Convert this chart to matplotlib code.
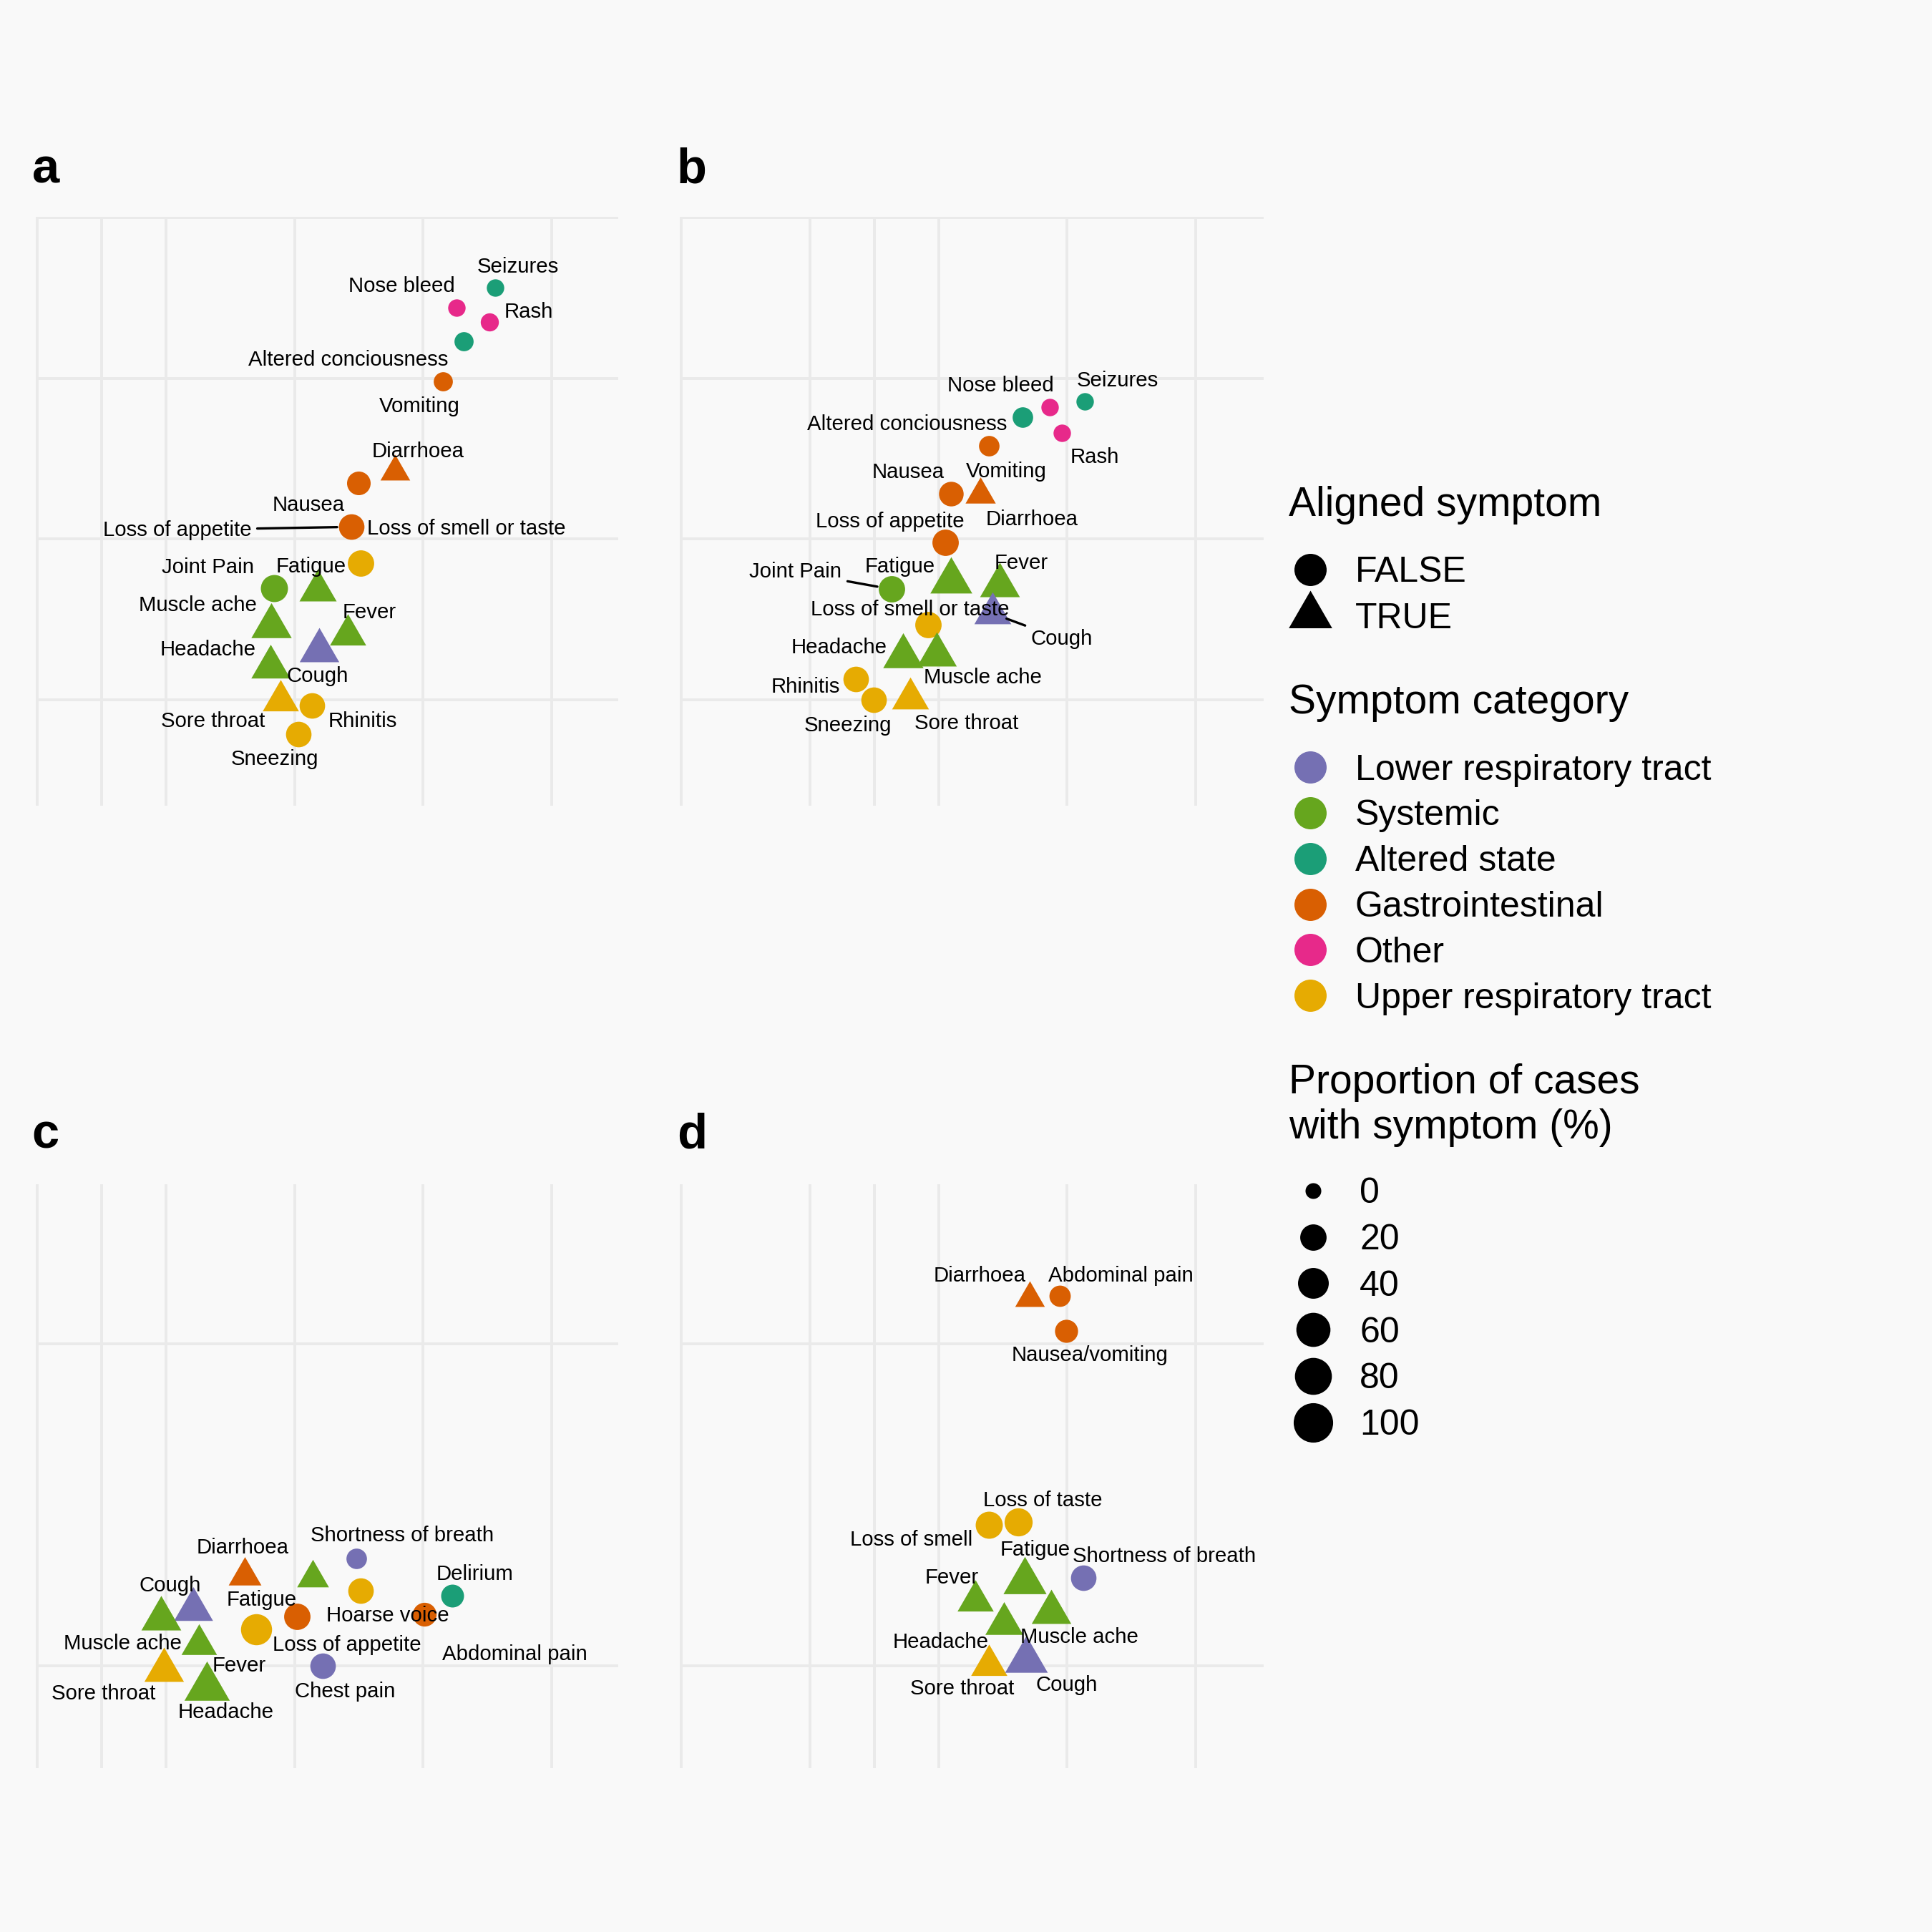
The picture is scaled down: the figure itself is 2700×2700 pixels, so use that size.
import numpy as np
import matplotlib
matplotlib.use("Agg")
import matplotlib.pyplot as plt
from matplotlib.path import Path
from matplotlib.lines import Line2D

plt.rcParams['font.family'] = ['Liberation Sans', 'DejaVu Sans']

# ---------------- data ----------------
category_names = ['Lower respiratory tract', 'Systemic', 'Altered state',
                  'Gastrointestinal', 'Other', 'Upper respiratory tract']
category_codes = ['LRT', 'SYS', 'ALT', 'GI', 'OTH', 'URT']
category_colors = ['#7570B3', '#66A61E', '#1B9E77', '#D95F02', '#E7298A', '#E6AB02']
size_breaks = [0, 20, 40, 60, 80, 100]
T, F = True, False

# panel a
a_symptom = ['Seizures', 'Nose bleed', 'Rash', 'Altered conciousness', 'Vomiting', 'Diarrhoea',
             'Nausea', 'Loss of appetite', 'Loss of smell or taste', 'Joint Pain', 'Fatigue',
             'Muscle ache', 'Fever', 'Cough', 'Headache', 'Sore throat', 'Rhinitis', 'Sneezing']
a_x = [1.563, 1.260, 1.515, 1.317, 1.152, 0.783, 0.496, 0.442, 0.516, -0.162, 0.179,
       -0.181, 0.413, 0.191, -0.188, -0.108, 0.134, 0.029]
a_y = [1.565, 1.441, 1.350, 1.231, 0.982, 0.419, 0.348, 0.076, -0.151, -0.304, -0.317,
       -0.541, -0.595, -0.694, -0.793, -1.005, -1.034, -1.212]
a_category = ['ALT', 'OTH', 'OTH', 'ALT', 'GI', 'GI', 'GI', 'GI', 'URT', 'SYS', 'SYS',
              'SYS', 'SYS', 'LRT', 'SYS', 'URT', 'URT', 'URT']
a_aligned = [F, F, F, F, F, T, F, F, F, F, T, T, T, T, T, T, F, F]
a_pct = [0.5, 0.5, 1, 2, 2, 7, 11, 17, 20, 23, 25, 36, 22, 33, 31, 22, 17, 17]

# panel b
b_symptom = ['Seizures', 'Nose bleed', 'Altered conciousness', 'Rash', 'Vomiting', 'Nausea',
             'Diarrhoea', 'Loss of appetite', 'Fatigue', 'Fever', 'Joint Pain', 'Cough',
             'Loss of smell or taste', 'Headache', 'Muscle ache', 'Rhinitis', 'Sneezing', 'Sore throat']
b_x = [1.136, 0.867, 0.655, 0.957, 0.389, 0.099, 0.322, 0.051, 0.096, 0.476, -0.364, 0.418,
       -0.082, -0.278, -0.012, -0.644, -0.507, -0.220]
b_y = [0.858, 0.821, 0.758, 0.662, 0.580, 0.283, 0.278, -0.020, -0.261, -0.286, -0.312, -0.462,
       -0.532, -0.728, -0.719, -0.869, -1.000, -0.992]
b_category = ['ALT', 'OTH', 'ALT', 'OTH', 'GI', 'GI', 'GI', 'GI', 'SYS', 'SYS', 'SYS', 'LRT',
              'URT', 'SYS', 'SYS', 'URT', 'URT', 'URT']
b_aligned = [F, F, F, F, F, F, T, F, T, T, F, T, F, T, T, F, F, T]
b_pct = [0.5, 0.5, 4, 0.5, 4, 14, 8, 20, 42, 34, 20, 24, 20, 36, 33, 17, 17, 24]

# panel c
c_symptom = ['Shortness of breath', 'Diarrhoea', 'Fatigue', 'Hoarse voice', 'Delirium', 'Cough',
             'Muscle ache', 'Loss of appetite', 'Abdominal pain', 'Loss of smell or taste', 'Fever',
             'Sore throat', 'Chest pain', 'Headache']
c_x = [0.480, -0.385, 0.140, 0.516, 1.229, -0.786, -1.038, 0.019, 1.012, -0.299, -0.745,
       -1.015, 0.220, -0.681]
c_y = [-0.331, -0.441, -0.455, -0.532, -0.566, -0.648, -0.707, -0.694, -0.682, -0.773, -0.867,
       -1.028, -1.000, -1.133]
c_category = ['LRT', 'GI', 'SYS', 'URT', 'ALT', 'LRT', 'SYS', 'GI', 'GI', 'URT', 'SYS',
              'URT', 'LRT', 'SYS']
c_aligned = [F, T, T, F, F, T, T, F, F, F, T, T, F, T]
c_pct = [4, 13, 11, 17, 9, 31, 34, 20, 11.5, 42, 20, 33, 17, 57]

# panel d
d_symptom = ['Diarrhoea', 'Abdominal pain', 'Nausea/vomiting', 'Loss of taste', 'Loss of smell',
             'Fatigue', 'Shortness of breath', 'Fever', 'Muscle ache', 'Headache', 'Sore throat', 'Cough']
d_x = [0.708, 0.944, 0.992, 0.619, 0.389, 0.670, 1.126, 0.287, 0.874, 0.510, 0.389, 0.682]
d_y = [1.286, 1.298, 1.082, -0.106, -0.126, -0.475, -0.452, -0.594, -0.668, -0.736, -0.994, -0.966]
d_category = ['GI', 'GI', 'GI', 'URT', 'URT', 'SYS', 'LRT', 'SYS', 'SYS', 'SYS', 'URT', 'LRT']
d_aligned = [T, F, F, F, F, T, F, T, T, T, T, T]
d_pct = [7, 5.5, 9.5, 27, 23, 47, 17, 22, 33, 27, 22, 45]

# ---------------- label layout (repelled label positions) ----------------
a_label_pos = [(1.737, 1.693), (0.831, 1.573), (1.823, 1.413), (0.417, 1.115), (0.974, 0.823),
               (0.958, 0.546), (0.108, 0.209), (-0.914, 0.057), (1.334, 0.062), (-0.675, -0.176),
               (0.131, -0.170), (-0.751, -0.411), (0.582, -0.456), (0.179, -0.852), (-0.671, -0.688),
               (-0.633, -1.135), (0.528, -1.135), (-0.153, -1.368)]
a_segments = ['Loss of appetite']
b_label_pos = [(1.390, 0.985), (0.481, 0.956), (-0.242, 0.716), (1.215, 0.509), (0.529, 0.421),
               (-0.235, 0.416), (0.727, 0.122), (-0.380, 0.110), (-0.300, -0.173), (0.641, -0.151),
               (-1.113, -0.204), (0.960, -0.623), (-0.220, -0.439), (-0.771, -0.674), (0.344, -0.864),
               (-1.033, -0.920), (-0.705, -1.161), (0.217, -1.147)]
b_segments = ['Joint Pain', 'Cough']
c_label_pos = [(0.840, -0.191), (-0.401, -0.268), (-0.258, -0.589), (0.726, -0.687), (1.403, -0.432),
               (-0.967, -0.504), (-1.334, -0.864), (0.408, -0.872), (1.712, -0.929), None,
               (-0.432, -1.0), (-1.483, -1.175), (0.394, -1.162), (-0.537, -1.289)]
c_segments = []
d_label_pos = [(0.322, 1.425), (1.416, 1.425), (1.177, 0.930), (0.811, 0.027), (-0.211, -0.219),
               (0.752, -0.279), (1.757, -0.319), (0.101, -0.455), (1.094, -0.821), (0.019, -0.852),
               (0.182, -1.142), (0.998, -1.119)]
d_segments = []

# ---------------- style ----------------
DPI = 300
FIG_IN = 9.0
BG = '#F9F9F9'
GRID = '#EAEAEA'
LABEL_FS = 7.05
LEG_FS = 12.0
TITLE_FS = 13.7
TAG_FS = 16.5

TRI = Path([(0, 1.5551), (1.3468, -0.7776), (-1.3468, -0.7776), (0, 1.5551)],
           [Path.MOVETO, Path.LINETO, Path.LINETO, Path.CLOSEPOLY])
TRI_FACTOR = 1.5551


def diameter_pt(pct):
    """area-type size scale (ggplot range 2..6) expressed as marker diameter in points"""
    return 5.29 + 7.94 * np.sqrt(np.asarray(pct, dtype=float) / 100.0)


color_of = dict(zip(category_codes, category_colors))

fig = plt.figure(figsize=(FIG_IN, FIG_IN), dpi=DPI, facecolor=BG)

panels = [
    dict(tag='a', rect=[0.01869, 0.5831, 0.3012, 0.3047], xlim=(-2.01, 2.516), ylim=(-1.657, 2.005),
         xgrid=[-2, -1.5, -1, 0, 1, 2], ygrid=[-1, 0, 1, 2],
         data=(a_symptom, a_x, a_y, a_category, a_aligned, a_pct, a_label_pos, a_segments),
         tagpos=(0.01658, 0.9055)),
    dict(tag='b', rect=[0.3520, 0.5831, 0.3022, 0.3047], xlim=(-2.01, 2.53), ylim=(-1.657, 2.005),
         xgrid=[-2, -1, -0.5, 0, 1, 2], ygrid=[-1, 0, 1, 2],
         data=(b_symptom, b_x, b_y, b_category, b_aligned, b_pct, b_label_pos, b_segments),
         tagpos=(0.3503, 0.9055)),
    dict(tag='c', rect=[0.01869, 0.0847, 0.3012, 0.3023], xlim=(-2.01, 2.516), ylim=(-1.638, 1.993),
         xgrid=[-2, -1.5, -1, 0, 1, 2], ygrid=[-1, 1],
         data=(c_symptom, c_x, c_y, c_category, c_aligned, c_pct, c_label_pos, c_segments),
         tagpos=(0.01658, 0.4057)),
    dict(tag='d', rect=[0.3520, 0.0847, 0.3022, 0.3023], xlim=(-2.01, 2.53), ylim=(-1.638, 1.993),
         xgrid=[-2, -1, -0.5, 0, 1, 2], ygrid=[-1, 1],
         data=(d_symptom, d_x, d_y, d_category, d_aligned, d_pct, d_label_pos, d_segments),
         tagpos=(0.3503, 0.4057)),
]

for p in panels:
    ax = fig.add_axes(p['rect'])
    ax.set_facecolor(BG)
    ax.set_xlim(*p['xlim'])
    ax.set_ylim(*p['ylim'])
    ax.set_xticks(p['xgrid'])
    ax.set_yticks(p['ygrid'])
    ax.tick_params(length=0, labelbottom=False, labelleft=False)
    for s in ax.spines.values():
        s.set_visible(False)
    ax.grid(True, color=GRID, linewidth=0.95)
    ax.set_axisbelow(True)

    names, xs, ys, cats, aligned, pct, lpos, segs = p['data']
    diam = diameter_pt(pct)
    for i in range(len(names)):
        if aligned[i]:
            ax.scatter([xs[i]], [ys[i]], s=(diam[i] * TRI_FACTOR) ** 2, marker=TRI,
                       color=color_of[cats[i]], linewidths=0, zorder=3)
        else:
            ax.scatter([xs[i]], [ys[i]], s=diam[i] ** 2, marker='o',
                       color=color_of[cats[i]], linewidths=0, zorder=3)
    for i in range(len(names)):
        if lpos[i] is None:
            continue
        if names[i] in segs:
            ax.annotate(names[i], xy=(xs[i], ys[i]), xytext=lpos[i], ha='center', va='center',
                        fontsize=LABEL_FS, color='black', zorder=4,
                        arrowprops=dict(arrowstyle='-', color='black', lw=0.8,
                                        shrinkA=0, shrinkB=diam[i] / 2 + 0.5))
        else:
            ax.text(lpos[i][0], lpos[i][1], names[i], ha='center', va='center',
                    fontsize=LABEL_FS, color='black', zorder=4)
    fig.text(p['tagpos'][0], p['tagpos'][1], p['tag'], fontsize=TAG_FS, fontweight='bold',
             ha='left', va='baseline')

# ---------------- legends ----------------
LEG_LEFT = 0.6672
FIG_PX = FIG_IN * DPI
PT2PX = DPI / 72.0


def make_legend(handles, labels, first_center, pitch_pt, hl, htp, ls_guess=0.35):
    kw = dict(loc='upper left', bbox_transform=fig.transFigure, frameon=False,
              borderpad=0, borderaxespad=0, handlelength=hl, handletextpad=htp,
              fontsize=LEG_FS, handleheight=0.7)
    leg = fig.legend(handles, labels, bbox_to_anchor=(LEG_LEFT, first_center),
                     labelspacing=ls_guess, **kw)
    fig.canvas.draw()
    r = fig.canvas.get_renderer()
    cs = [(t.get_window_extent(r).y0 + t.get_window_extent(r).y1) / 2 for t in leg.get_texts()]
    pitch = (cs[0] - cs[-1]) / (len(cs) - 1)
    ls = ls_guess + (pitch_pt * PT2PX - pitch) / PT2PX / LEG_FS
    leg.remove()
    leg = fig.legend(handles, labels, bbox_to_anchor=(LEG_LEFT, first_center),
                     labelspacing=ls, **kw)
    fig.canvas.draw()
    r = fig.canvas.get_renderer()
    b = leg.get_texts()[0].get_window_extent(r)
    c0 = (b.y0 + b.y1) / 2
    target = first_center * FIG_PX - 0.1 * LEG_FS * PT2PX
    shift = (target - c0) / FIG_PX
    leg.set_bbox_to_anchor((LEG_LEFT, first_center + shift), transform=fig.transFigure)
    return leg


KEY_D = 10.8
shape_handles = [Line2D([], [], ls='', marker='o', color='black', markersize=KEY_D, markeredgewidth=0),
                 Line2D([], [], ls='', marker=TRI, color='black', markersize=KEY_D * TRI_FACTOR,
                        markeredgewidth=0)]
color_handles = [Line2D([], [], ls='', marker='o', color=c, markersize=KEY_D, markeredgewidth=0)
                 for c in category_colors]
size_handles = [Line2D([], [], ls='', marker='o', color='black', markersize=float(diameter_pt(v)),
                       markeredgewidth=0) for v in size_breaks]

fig.text(LEG_LEFT, 0.7384, 'Aligned symptom', fontsize=TITLE_FS, ha='left', va='center')
make_legend(shape_handles, ['FALSE', 'TRUE'], 0.7055, 15.54, 1.185, 0.657)
fig.text(LEG_LEFT, 0.6364, 'Symptom category', fontsize=TITLE_FS, ha='left', va='center')
make_legend(color_handles, category_names, 0.6031, 15.31, 1.185, 0.657)
fig.text(LEG_LEFT, 0.4281, 'Proportion of cases\nwith symptom (%)', fontsize=TITLE_FS,
         ha='left', va='center', linespacing=1.22)
make_legend(size_handles, [str(v) for v in size_breaks], 0.3839, 15.54, 1.337, 0.64)

fig.savefig('out.png', dpi=DPI, facecolor=BG)
